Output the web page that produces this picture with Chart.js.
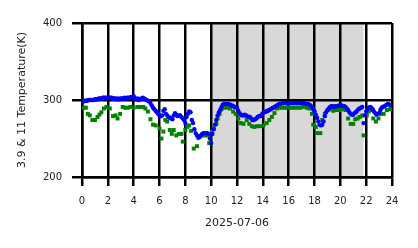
<!DOCTYPE html>
<html lang="en">
<head>
    <meta charset="UTF-8">
    <title>3.9 & 11 Temperature</title>
    <script src="https://cdn.jsdelivr.net/npm/chart.js"></script>
    <style>
        body { margin: 0; background: #fff; }
        #wrap { width: 418px; height: 248px; }
    </style>
</head>
<body>
    <div id="wrap"><canvas id="tempChart"></canvas></div>
    <script>
        // hours of the day (2025-07-06) and brightness temperatures in K
        const blueHours = [];
        for (let i = 1; i <= 239; i++) blueHours.push(i / 10);
        const blueTemps = [
            298, 299, 299, 299, 300, 300, 300, 300, 300, 301,
            301, 301, 302, 302, 302, 303, 303, 303, 303, 302,
            303, 303, 303, 302, 302, 302, 301, 302, 301, 302,
            302, 302, 303, 302, 303, 303, 303, 304, 304, 305,
            302, 301, 302, 300, 301, 302, 303, 302, 301, 300,
            299, 298, 296, 293, 290, 288, 286, 284, 282, 280,
            279, 280, 286, 288, 282, 280, 278, 277, 276, 275,
            280, 283, 281, 279, 280, 280, 278, 276, 274, 270,
            278, 282, 285, 284, 274, 270, 262, 257, 254, 251,
            252, 254, 256, 257, 257, 257, 257, 256, 250, 244,
            256, 262, 268, 274, 280, 284, 287, 291, 294, 295,
            295, 295, 295, 294, 294, 293, 292, 291, 291, 290,
            286, 283, 281, 280, 280, 281, 280, 279, 278, 278,
            276, 274, 274, 275, 276, 278, 279, 279, 281, 283,
            284, 285, 285, 286, 287, 288, 289, 290, 291, 292,
            293, 294, 295, 295, 296, 296, 296, 296, 296, 296,
            296, 296, 296, 296, 296, 296, 296, 296, 296, 296,
            296, 296, 295, 295, 295, 294, 293, 291, 288, 285,
            281, 277, 272, 268, 267, 268, 272, 279, 284, 287,
            289, 291, 292, 292, 291, 292, 292, 292, 293, 293,
            293, 292, 292, 291, 289, 287, 284, 282, 281, 281,
            283, 284, 286, 288, 289, 290, 291, 270, 280, 285,
            288, 290, 291, 290, 288, 285, 283, 281, 282, 283,
            287, 290, 291, 292, 293, 294, 295, 294, 293
        ];

        const greenHours = [
            0.15, 0.3, 0.45, 0.6, 0.8, 1.0, 1.2, 1.35, 1.5, 1.7,
            1.9, 2.15, 2.4, 2.6, 2.75, 2.95, 3.15, 3.35, 3.55, 3.75,
            4.0, 4.3, 4.5, 4.75, 4.9, 5.1, 5.3, 5.5, 5.7, 6.0,
            6.15, 6.3, 6.45, 6.6, 6.8, 6.95, 7.1, 7.3, 7.5, 7.7,
            7.8, 8.0, 8.15, 8.3, 8.45, 8.65, 8.9, 9.1, 9.3, 9.5,
            9.7, 9.85, 10.05, 10.2, 10.4, 10.5, 10.65, 10.8, 10.95, 11.2,
            11.45, 11.7, 11.9, 12.1, 12.3, 12.5, 12.75, 12.95, 13.15, 13.35,
            13.55, 13.8, 14.05, 14.3, 14.5, 14.7, 14.9, 15.1, 15.3, 15.5,
            15.7, 15.9, 16.1, 16.3, 16.5, 16.7, 16.9, 17.1, 17.4, 17.6,
            17.8, 17.9, 18.1, 18.2, 18.45, 18.6, 18.8, 19.05, 19.25, 19.45,
            19.7, 19.9, 20.15, 20.4, 20.6, 20.8, 21.0, 21.15, 21.35, 21.5,
            21.7, 21.8, 22.05, 22.2, 22.35, 22.55, 22.75, 22.95, 23.15, 23.35,
            23.6, 23.85
        ];
        const greenTemps = [
            290, 290, 282, 280, 274, 274, 278, 281, 284, 289,
            291, 289, 279, 280, 276, 282, 291, 290, 290, 291,
            290, 291, 291, 291, 289, 285, 275, 268, 267, 263,
            250, 259, 274, 272, 261, 256, 261, 254, 256, 256,
            246, 261, 265, 267, 260, 237, 240, 253, 254, 254,
            254, 244, 259, 263, 269, 276, 282, 288, 290, 290,
            289, 285, 282, 276, 270, 269, 274, 269, 266, 265,
            266, 266, 267, 270, 274, 278, 283, 289, 290, 290,
            290, 290, 290, 290, 290, 290, 290, 291, 290, 289,
            282, 268, 265, 257, 257, 274, 282, 287, 288, 286,
            287, 287, 288, 287, 276, 269, 269, 275, 276, 278,
            280, 254, 280, 285, 287, 276, 272, 276, 282, 282,
            287, 288
        ];

        const xTicks = [0, 2, 4, 6, 8, 10, 12, 14, 16, 18, 20, 22, 24];
        const yTicks = [200, 300, 400];
        const shadeStart = 10;
        const shadeEnd = 21.8;

        const toPoints = (xs, ys) => xs.map((x, i) => ({ x: x, y: ys[i] }));

        // grey band behind the grid
        const shadePlugin = {
            id: "shade",
            beforeDraw(chart) {
                const { ctx, chartArea, scales } = chart;
                const x0 = scales.x.getPixelForValue(shadeStart);
                const x1 = scales.x.getPixelForValue(shadeEnd);
                ctx.save();
                ctx.fillStyle = "#d8d8d8";
                ctx.fillRect(x0, chartArea.top, x1 - x0, chartArea.bottom - chartArea.top);
                ctx.restore();
            }
        };

        const font = { family: "'DejaVu Sans'", size: 10 };
        const titleFont = { family: "'DejaVu Sans'", size: 11 };

        new Chart(document.getElementById("tempChart"), {
            type: "scatter",
            data: {
                datasets: [
                    {
                        label: "3.9",
                        data: toPoints(blueHours, blueTemps),
                        pointStyle: "circle",
                        pointRadius: 2.2,
                        borderWidth: 0,
                        backgroundColor: "#0000ff"
                    },
                    {
                        label: "11",
                        data: toPoints(greenHours, greenTemps),
                        pointStyle: "rect",
                        pointRadius: 2.8,
                        borderWidth: 0,
                        backgroundColor: "#008000"
                    }
                ]
            },
            options: {
                responsive: true,
                maintainAspectRatio: false,
                animation: false,
                layout: { padding: { left: 0, top: 23, right: 26, bottom: 0 } },
                plugins: { legend: { display: false }, tooltip: { enabled: false } },
                scales: {
                    x: {
                        type: "linear",
                        min: 0,
                        max: 24,
                        afterBuildTicks: (s) => { s.ticks = xTicks.map(v => ({ value: v })); },
                        afterFit: (s) => { s.height = 71; },
                        grid: { color: "#000", lineWidth: 2.5, tickLength: 9 },
                        border: { color: "#000", width: 2.5 },
                        ticks: { color: "#222", font: font, padding: 9, maxRotation: 0 },
                        title: {
                            display: true,
                            text: "2025-07-06",
                            color: "#222",
                            font: titleFont,
                            padding: { top: 0, bottom: 18 }
                        }
                    },
                    y: {
                        type: "linear",
                        min: 200,
                        max: 400,
                        afterBuildTicks: (s) => { s.ticks = yTicks.map(v => ({ value: v })); },
                        afterFit: (s) => { s.width = 82; },
                        grid: { color: "#000", lineWidth: 2.5, tickLength: 10 },
                        border: { color: "#000", width: 2.5 },
                        ticks: { color: "#222", font: font, padding: 10 },
                        title: {
                            display: true,
                            text: "3.9 & 11 Temperature(K)",
                            color: "#222",
                            font: titleFont,
                            padding: { top: 16, bottom: 0 }
                        }
                    }
                }
            },
            plugins: [shadePlugin]
        });
    </script>
</body>
</html>
